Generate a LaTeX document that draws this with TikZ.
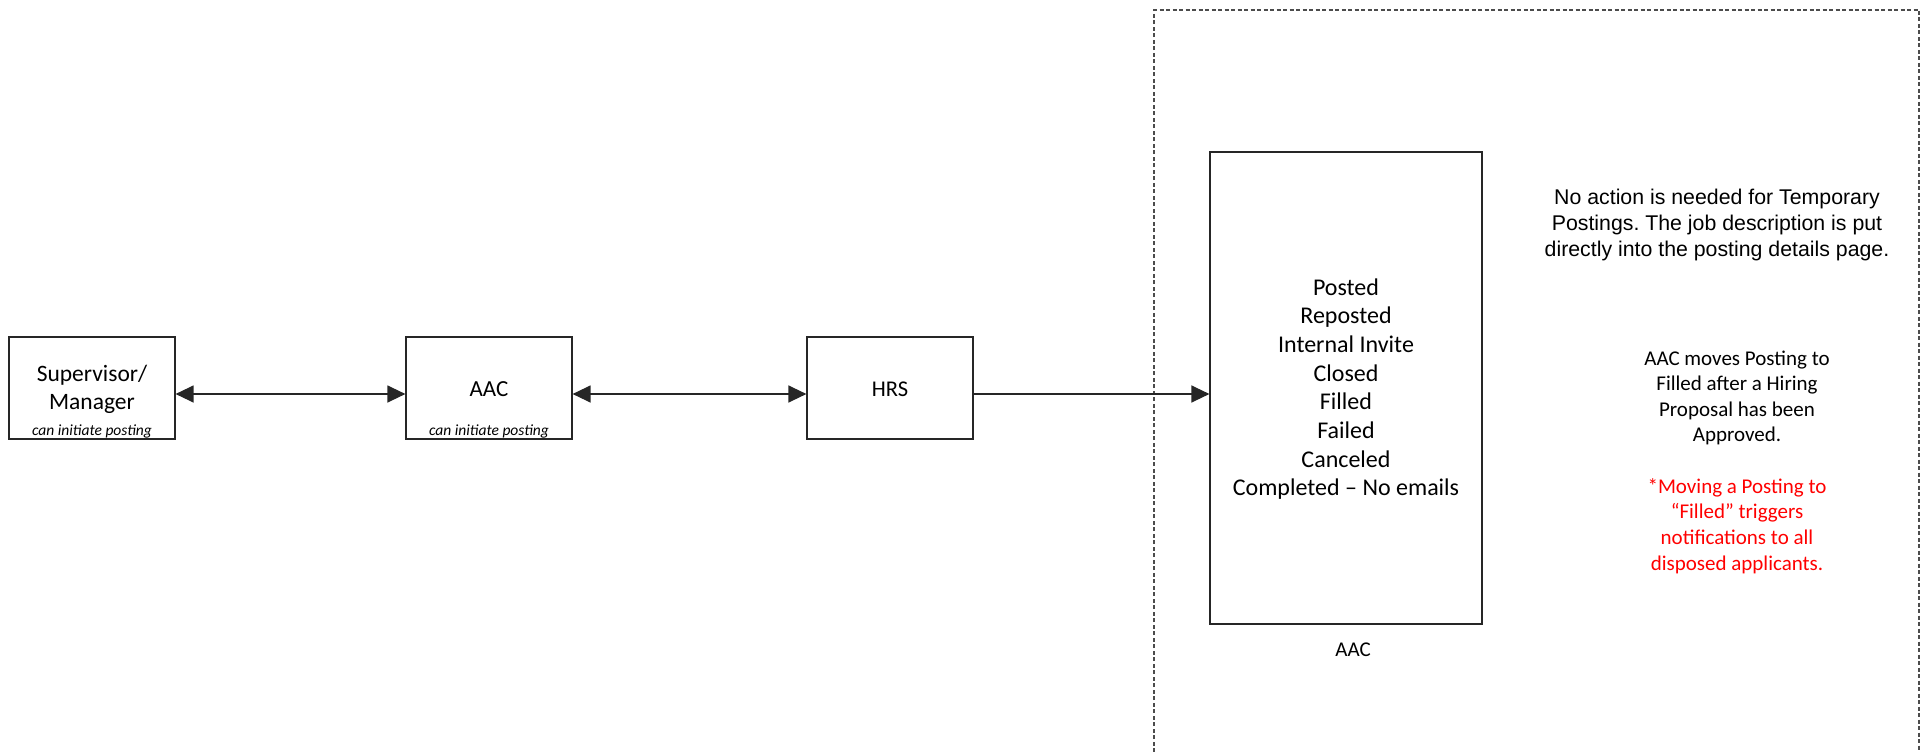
\documentclass[tikz,border=0pt]{standalone}
\usepackage{fontspec}
\setmainfont{Carlito}
\newfontfamily\arialfont{Liberation Sans}
\usetikzlibrary{arrows.meta}
\frenchspacing
\tikzset{
  boxstyle/.style={draw=black!85, line width=1.2pt, rectangle, inner sep=0pt},
  txt/.style={inner sep=0pt, align=center, text=black},
  conn/.style={draw=black!85, line width=1.3pt},
  tip/.style={-{Triangle[length=18pt,width=17pt]}},
  bitip/.style={{Triangle[length=18pt,width=17pt]}-{Triangle[length=18pt,width=17pt]}},
  frame/.style={draw=black!70, line width=1.1pt, dash pattern=on 4pt off 2.5pt},
}
\begin{document}
\begin{tikzpicture}[x=1pt,y=-1pt]
\useasboundingbox (0,0) rectangle (1927,752);
% dashed frame
\draw[frame] (1154,752) -- (1154,10) -- (1919,10) -- (1919,752);
% boxes
\node[boxstyle, minimum width=166pt, minimum height=102pt] (sup) at (92,388) {};
\node[boxstyle, minimum width=166pt, minimum height=102pt] (aac) at (489,388) {};
\node[boxstyle, minimum width=166pt, minimum height=102pt] (hrs) at (890,388) {};
\node[boxstyle, minimum width=272pt, minimum height=472pt] (big) at (1346,388) {};
% box texts
\node[txt, font=\fontsize{23.5}{28}\selectfont] (suptxt) at (92,389) {Supervisor/\\Manager};
\node[txt, font=\fontsize{15.5}{18}\itshape\selectfont] (supsub) at (92,431) {can initiate posting};
\node[txt, font=\fontsize{23}{28}\selectfont] (aactxt) at (489,389) {AAC};
\node[txt, font=\fontsize{15.5}{18}\itshape\selectfont] (aacsub) at (489,431) {can initiate posting};
\node[txt, font=\fontsize{22.5}{28}\selectfont] (hrstxt) at (890,389) {HRS};
\node[txt, font=\fontsize{24}{28.65}\selectfont] (bigtxt) at (1346,389)
  {Posted\\Reposted\\Internal Invite\\Closed\\Filled\\Failed\\Canceled\\Completed -- No emails};
\node[txt, font=\fontsize{21}{25}\selectfont] (biglab) at (1353,650) {AAC};
% notes
\node[txt, font=\arialfont\fontsize{21.3}{25.7}\selectfont] (note1) at (1717,225)
  {No action is needed for Temporary\\Postings. The job description is put\\directly into the posting details page.};
\node[txt, font=\fontsize{21}{25.3}\selectfont] (note2) at (1737,398)
  {AAC moves Posting to\\Filled after a Hiring\\Proposal has been\\Approved.};
\node[txt, text={rgb,255:red,255;green,0;blue,0}, font=\fontsize{21}{25.7}\selectfont] (note3) at (1737,526)
  {*Moving a Posting to\\“Filled” triggers\\notifications to all\\disposed applicants.};
% connectors
\draw[conn, bitip] ([yshift=-6pt]sup.east) -- ([yshift=-6pt]aac.west);
\draw[conn, bitip] ([yshift=-6pt]aac.east) -- ([yshift=-6pt]hrs.west);
\draw[conn, tip] ([yshift=-6pt]hrs.east) -- ([yshift=-6pt]big.west);
\end{tikzpicture}
\end{document}
